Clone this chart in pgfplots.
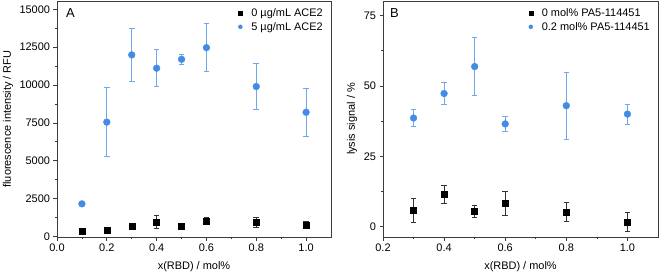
\documentclass[border=0pt]{standalone}
\usepackage{pgfplots}
\pgfplotsset{compat=1.18}
\usepackage{fontspec}
\setmainfont{Liberation Sans}
\definecolor{myblue}{RGB}{66,140,232}
\definecolor{myblueerr}{RGB}{110,168,238}
\definecolor{frame}{RGB}{60,60,60}
\pgfplotsset{
  panel/.style={
    scale only axis, width=274bp, height=236bp,
    font=\fontsize{11}{13}\selectfont,
    tick label style={font=\fontsize{11}{13}\selectfont},
    /pgf/number format/assume math mode=true,
    scaled ticks=false,
    axis line style={frame, line width=0.8pt},
    every tick/.style={frame, line width=0.7pt},
    tick align=outside, tick pos=left,
    major tick length=3.5bp, minor tick length=2bp,
    minor x tick num=1, minor y tick num=1,
    xlabel={x(RBD) / mol\%},
    xlabel style={at={(axis description cs:0.5,0)}, anchor=center, yshift=-29.5bp},
    xticklabel style={/pgf/number format/fixed, /pgf/number format/fixed zerofill, /pgf/number format/precision=1},
    legend style={draw=none, fill=none, at={(1,1)}, anchor=north east,
      font=\fontsize{11}{13}\selectfont, row sep=0.5bp, column sep=7bp, xshift=-3bp, yshift=-3bp},
    legend cell align=left,
    legend image post style={mark size=2bp},
  },
  blk/.style={only marks, mark=square*, mark size=3bp, color=black,
    mark options={fill=black, draw=black},
    error bars/.cd, y dir=both, y explicit,
    error bar style={color=black!80, line width=0.7pt},
    error mark options={rotate=90, mark size=2.8bp, color=black!80, line width=0.7pt}},
  blu/.style={only marks, mark=*, mark size=3.4bp, color=myblue,
    mark options={fill=myblue, draw=myblue},
    error bars/.cd, y dir=both, y explicit,
    error bar style={color=myblueerr, line width=0.8pt},
    error mark options={rotate=90, mark size=2.8bp, color=myblueerr, line width=0.8pt}},
}
\begin{document}
\begin{tikzpicture}
\path[use as bounding box] (-57bp,-38bp) rectangle (602bp,237bp);
\begin{axis}[panel, at={(0,0)}, anchor=south west,
  xmin=0, xmax=1.1, ymin=-40, ymax=15550,
  xtick={0,0.2,0.4,0.6,0.8,1.0},
  ytick={0,2500,5000,7500,10000,12500,15000},
  yticklabel style={/pgf/number format/fixed, /pgf/number format/1000 sep={}},
  ylabel={fluorescence intensity / RFU},
  ylabel style={at={(axis description cs:-0.179,0.5)}, anchor=center},
]
\addplot[blk] table[x=x, y=y, y error=e] {
x y e
0.1 330 60
0.2 420 60
0.3 650 80
0.4 960 460
0.5 700 150
0.6 1030 220
0.8 950 340
1.0 750 240
};
\addlegendentry{0 µg/mL ACE2}
\addplot[blu] table[x=x, y=y, y error=e] {
x y e
0.1 2150 100
0.2 7550 2270
0.3 11990 1720
0.4 11110 1230
0.5 11700 350
0.6 12470 1600
0.8 9900 1530
1.0 8200 1570
};
\addlegendentry{5 µg/mL ACE2}
\node[anchor=north west, font=\fontsize{13}{13}\selectfont, inner sep=0pt] at (axis description cs:0.033,0.97) {A};
\end{axis}
\begin{axis}[panel, at={(326bp,0)}, anchor=south west, width=275bp,
  xmin=0.2, xmax=1.1, ymin=-3.7, ymax=80.2,
  xtick={0.2,0.4,0.6,0.8,1.0},
  ytick={0,25,50,75},
  ylabel={lysis signal / \%},
  ylabel style={at={(axis description cs:-0.113,0.5)}, anchor=center},
]
\addplot[blk] table[x=x, y=y, y error=e] {
x y e
0.3 5.8 4.4
0.4 11.5 3.2
0.5 5.3 2.1
0.6 8.2 4.2
0.8 5.1 3.4
1.0 1.7 3.3
};
\addlegendentry{0 mol\% PA5-114451}
\addplot[blu] table[x=x, y=y, y error=e] {
x y e
0.3 38.6 3.1
0.4 47.3 3.8
0.5 56.9 10.2
0.6 36.5 2.7
0.8 43.0 11.9
1.0 40.0 3.6
};
\addlegendentry{0.2 mol\% PA5-114451}
\node[anchor=north west, font=\fontsize{13}{13}\selectfont, inner sep=0pt] at (axis description cs:0.025,0.97) {B};
\end{axis}
\end{tikzpicture}
\end{document}
